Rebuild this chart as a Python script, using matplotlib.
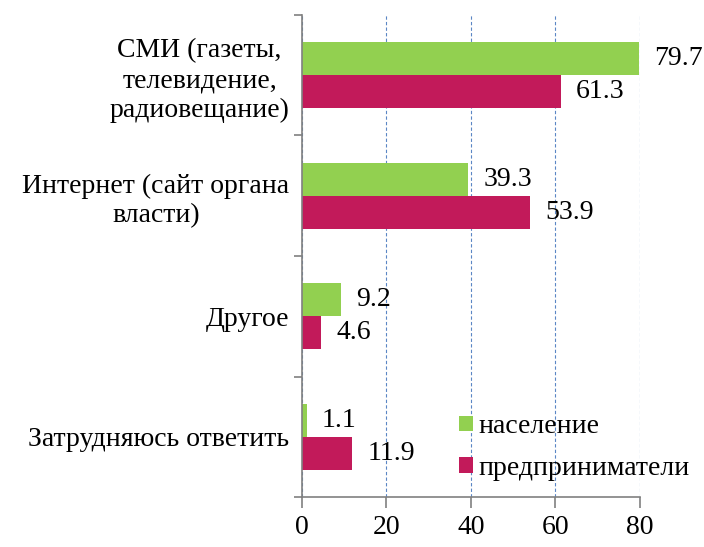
import matplotlib
matplotlib.use("Agg")
import matplotlib.pyplot as plt
import numpy as np

# values
categories = [
    "СМИ (газеты,\nтелевидение,\nрадиовещание)",
    "Интернет (сайт органа\nвласти)",
    "Другое",
    "Затрудняюсь ответить",
]
population = [79.7, 39.3, 9.2, 1.1]
business = [61.3, 53.9, 4.6, 11.9]
series_names = ["население", "предприниматели"]
x_ticks = [0, 20, 40, 60, 80]

GREEN = "#92d050"
CRIMSON = "#c21a5a"

plt.rcParams["font.family"] = ["Liberation Serif", "DejaVu Serif"]
plt.rcParams["font.size"] = 20

fig = plt.figure(figsize=(7.04, 5.47), dpi=100)
ax = fig.add_axes([0.429, 0.0914, 0.48, 0.8812])

y = np.arange(len(categories))
h = 0.275
b1 = ax.barh(y - h / 2, population, height=h, color=GREEN, label=series_names[0], zorder=2)
b2 = ax.barh(y + h / 2, business, height=h, color=CRIMSON, label=series_names[1], zorder=2)

for bars, vals in ((b1, population), (b2, business)):
    for bar, v in zip(bars, vals):
        ax.annotate(f"{v:.1f}", (v, bar.get_y() + bar.get_height() / 2),
                    xytext=(11, 0), textcoords="offset points",
                    va="center", ha="left")

ax.set_xlim(0, 80)
ax.set_ylim(len(categories) - 0.5, -0.5)
ax.set_xticks(x_ticks)
ax.set_yticks(y)
ax.set_yticklabels(categories, multialignment="center", linespacing=1.25)
ax.tick_params(axis="y", length=0, pad=9)
ax.set_yticks(np.arange(len(categories) + 1) - 0.5, minor=True)
ax.tick_params(axis="y", which="minor", length=6, color="#808080", width=1.2)
ax.tick_params(axis="x", length=8, color="#808080", width=1.2, pad=5)

ax.xaxis.grid(True, linestyle=(0, (3, 2)), color="#5b86c5", linewidth=0.8)
ax.set_axisbelow(True)
for s in ("top", "right"):
    ax.spines[s].set_visible(False)
for s in ("left", "bottom"):
    ax.spines[s].set_color("#808080")
    ax.spines[s].set_linewidth(1.2)

ax.legend(loc="lower left", bbox_to_anchor=(0.464, 0.033), frameon=False,
          handlelength=0.5, handleheight=0.5, handletextpad=0.2, labelspacing=0.6,
          borderpad=0, borderaxespad=0)

fig.savefig("out.png", dpi=100)
